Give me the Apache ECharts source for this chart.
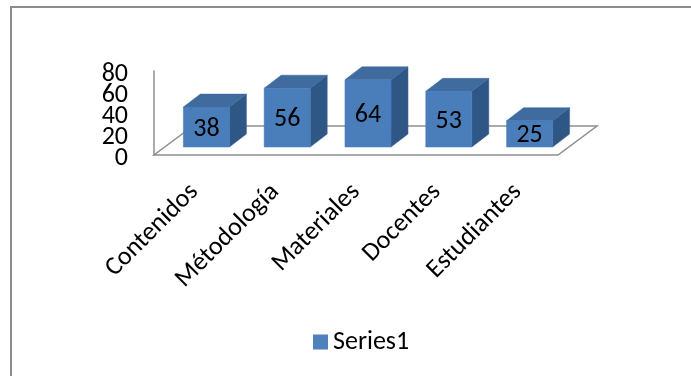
<!DOCTYPE html>
<html>
<head>
<meta charset="utf-8">
<script src="https://cdn.jsdelivr.net/npm/echarts@6/dist/echarts.min.js"></script>
<style>
    html, body { margin: 0; padding: 0; background: #fff; }
    #chart { width: 691px; height: 376px; position: relative; }
    #frame { position: absolute; left: 10px; top: 6px; width: 700px; height: 400px;
             border-left: 2px solid #8c8c8c; border-top: 2px solid #8c8c8c; pointer-events: none; }
</style>
</head>
<body>
<div id="chart"></div>
<div id="frame"></div>
<script>
// data
var categories = ['Contenidos', 'Métodología', 'Materiales', 'Docentes', 'Estudiantes'];
var values = [38, 56, 64, 53, 25];
var seriesName = 'Series1';
var yTicks = [0, 20, 40, 60, 80];

var FONT = 'Carlito, Lato, "Liberation Sans", sans-serif';
var FS = 26;
var FRONT = '#4a7ebb', TOP = '#3f6b9e', SIDE = '#2f5785';
var FLOOR_DEPTH = [39, -29];   // floor back edge offset
var BAR_OFF = [12, -8];        // bar front face offset from floor front edge
var BAR_DEPTH = [17, -13];     // box depth

function barItem(params, api) {
    var idx = api.value(0);
    var base = api.coord([idx, 0]);
    var top = api.coord([idx, api.value(1)]);
    var band = api.size([1, 0])[0];
    var w = band * 0.57;
    var x0 = base[0] - w / 2 + BAR_OFF[0], x1 = x0 + w;
    var yb = base[1] + BAR_OFF[1], yt = top[1] + BAR_OFF[1];
    var dx = BAR_DEPTH[0], dy = BAR_DEPTH[1];
    return {
        type: 'group',
        children: [
            { type: 'polygon', shape: { points: [[x1, yb], [x1 + dx, yb + dy], [x1 + dx, yt + dy], [x1, yt]] },
              style: { fill: SIDE, stroke: '#3a64a0', lineWidth: 0.5 } },
            { type: 'polygon', shape: { points: [[x0, yt], [x1, yt], [x1 + dx, yt + dy], [x0 + dx, yt + dy]] },
              style: { fill: TOP, stroke: '#3a64a0', lineWidth: 0.5 } },
            { type: 'rect', shape: { x: x0, y: yt, width: w, height: yb - yt },
              style: { fill: FRONT, stroke: '#4577b4', lineWidth: 0.5 } },
            { type: 'text', x: (x0 + x1) / 2, y: (yt + yb) / 2 + 2,
              style: { text: String(api.value(1)), fill: '#000', font: FS + 'px ' + FONT,
                       align: 'center', verticalAlign: 'middle' } }
        ]
    };
}

function floorItem(params, api) {
    var band = api.size([1, 0])[0];
    var left = api.coord([0, 0]);
    var right = api.coord([categories.length - 1, 0]);
    var xl = left[0] - band / 2, xr = right[0] + band / 2, y = left[1];
    var dx = FLOOR_DEPTH[0], dy = FLOOR_DEPTH[1];
    return {
        type: 'polygon',
        shape: { points: [[xl, y], [xr, y], [xr + dx, y + dy], [xl + dx, y + dy]] },
        style: { fill: '#fff', stroke: '#8e8e8e', lineWidth: 1.5 }
    };
}

// value axis labels, packed tight like the original
function tickItem(params, api) {
    var band = api.size([1, 0])[0];
    var p = api.coord([0, api.value(1)]);
    return {
        type: 'text', x: p[0] - band / 2 - 26, y: p[1] + 3,
        style: { text: String(api.value(1)), fill: '#000', font: FS + 'px ' + FONT,
                 align: 'right', verticalAlign: 'middle' }
    };
}

var chart = echarts.init(document.getElementById('chart'));
var option = {
    animation: false,
    textStyle: { fontFamily: FONT },
    grid: { left: 154, right: 133, top: 71, bottom: 221, containLabel: false },
    legend: {
        data: [seriesName], left: 308, top: 324,
        icon: 'rect', itemWidth: 15, itemHeight: 15, itemGap: 5,
        textStyle: { fontSize: FS, color: '#000', fontFamily: FONT }
    },
    xAxis: {
        type: 'category', data: categories,
        axisLine: { show: false }, axisTick: { show: false },
        axisLabel: { rotate: 45, fontSize: FS, color: '#000', margin: 33, interval: 0, fontFamily: FONT }
    },
    yAxis: {
        type: 'value', min: yTicks[0], max: yTicks[yTicks.length - 1], interval: 20,
        axisLine: { show: true, lineStyle: { color: '#8e8e8e', width: 1.5 } },
        axisTick: { show: false }, splitLine: { show: false },
        axisLabel: { show: false }
    },
    series: [
        { type: 'custom', name: 'floor', data: [[0, 0]], renderItem: floorItem, z: 1, silent: true },
        { type: 'custom', name: 'ticks', data: yTicks.map(function (v) { return [0, v]; }),
          renderItem: tickItem, z: 1, silent: true },
        {
            type: 'custom', name: seriesName, z: 2,
            itemStyle: { color: '#4f81bd' },
            data: values.map(function (v, i) { return [i, v]; }),
            encode: { x: 0, y: 1 },
            renderItem: barItem
        }
    ]
};
chart.setOption(option);
</script>
</body>
</html>
